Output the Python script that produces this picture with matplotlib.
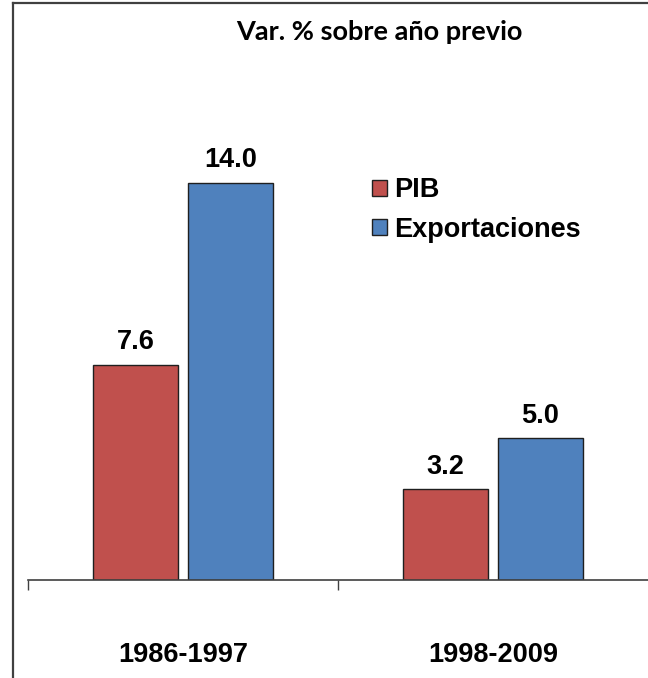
import numpy as np
import matplotlib
matplotlib.use("Agg")
import matplotlib.pyplot as plt
from matplotlib.lines import Line2D

periods = ["1986-1997", "1998-2009"]
pib = [7.6, 3.2]
exportaciones = [14.0, 5.0]
series_names = ["PIB", "Exportaciones"]
title = "Var. % sobre año previo"

narrow = ["Liberation Sans Narrow", "Liberation Sans", "DejaVu Sans"]

fig = plt.figure(figsize=(6.48, 6.78), dpi=100)
ax = fig.add_axes([28 / 648, 98 / 678, 620 / 648, 577 / 678])

x = np.arange(len(periods))
width = 0.274
off = 0.153
b1 = ax.bar(x - off, pib, width, color='#C0504D', edgecolor='#1f1f1f', linewidth=1.0)
b2 = ax.bar(x + off, exportaciones, width, color='#4F81BD', edgecolor='#1f1f1f', linewidth=1.0)

for bars, vals in ((b1, pib), (b2, exportaciones)):
    for r, v in zip(bars, vals):
        ax.annotate("{:.1f}".format(v), (r.get_x() + r.get_width() / 2, v),
                    xytext=(0, 7), textcoords='offset points', ha='center', va='bottom',
                    fontsize=19.5, fontweight='bold', family=narrow)

ax.set_xlim(-0.5, 1.5)
ax.set_ylim(0, 577 / 28.35)
for s in ('left', 'right', 'top'):
    ax.spines[s].set_visible(False)
ax.spines['bottom'].set_color('#404040')
ax.spines['bottom'].set_linewidth(1.2)
ax.set_yticks([])
ax.set_xticks([-0.5, 0.5])
ax.set_xticklabels([])
ax.tick_params(axis='x', which='major', length=7.5, width=1.0, color='#404040', direction='out')
ax.set_xticks(x, minor=True)
ax.set_xticklabels(periods, minor=True, fontsize=19.5, fontweight='bold', family=narrow)
ax.tick_params(axis='x', which='minor', length=0, pad=45)

leg = ax.legend((b1[0], b2[0]), series_names, loc='upper left', bbox_to_anchor=(320 / 620, 1 - 150 / 577),
                frameon=False, handlelength=0.55, handleheight=0.55, handletextpad=0.25, labelspacing=0.5,
                prop={'size': 19.5, 'weight': 'bold', 'family': narrow})

fig.text(379 / 648, 1 - 32 / 678, title, ha='center', va='center', fontsize=19.5, fontweight='bold', family='Lato')

# outer frame (left and top edges only)
fig.add_artist(Line2D([13 / 648, 13 / 648], [0, 1 - 3 / 678], color='#404040', linewidth=1.6, transform=fig.transFigure))
fig.add_artist(Line2D([13 / 648, 1], [1 - 3 / 678, 1 - 3 / 678], color='#404040', linewidth=1.6, transform=fig.transFigure))

fig.savefig("out.png", dpi=100)
